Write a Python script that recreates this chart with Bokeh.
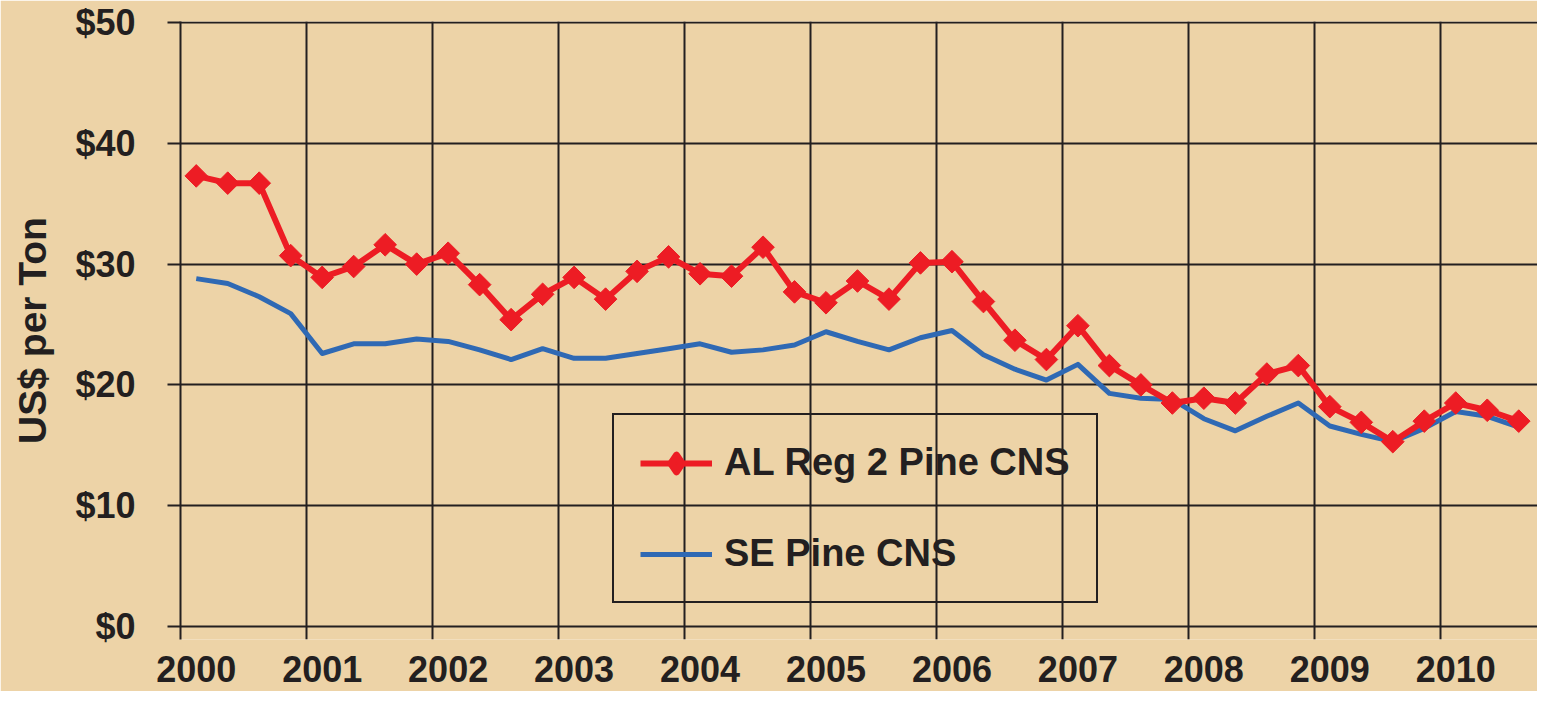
import math
from bokeh.plotting import figure
from bokeh.models import FixedTicker, Range1d, Legend, LegendItem, ColumnDataSource
from bokeh.embed import file_html
from bokeh.resources import INLINE

# ---------------- data ----------------
years = [2000, 2001, 2002, 2003, 2004, 2005, 2006, 2007, 2008, 2009, 2010]
year_labels = ["2000", "2001", "2002", "2003", "2004", "2005",
               "2006", "2007", "2008", "2009", "2010"]
quarters = [1, 2, 3, 4]
n_points = 43  # 2000 Q1 .. 2010 Q3

al_reg2_pine_cns = [37.3, 36.7, 36.7, 30.7, 28.9, 29.8, 31.6, 30.0, 30.9, 28.3,
                    25.4, 27.5, 28.9, 27.1, 29.4, 30.6, 29.2, 29.0, 31.4, 27.7,
                    26.8, 28.6, 27.1, 30.1, 30.2, 26.9, 23.7, 22.1, 24.9, 21.6,
                    20.0, 18.5, 18.9, 18.5, 20.9, 21.6, 18.2, 16.9, 15.3, 17.0,
                    18.5, 17.9, 17.0]
se_pine_cns = [28.8, 28.4, 27.3, 25.9, 22.6, 23.4, 23.4, 23.8, 23.6, 22.9,
               22.1, 23.0, 22.2, 22.2, 22.6, 23.0, 23.4, 22.7, 22.9, 23.3,
               24.4, 23.6, 22.9, 23.9, 24.5, 22.5, 21.3, 20.4, 21.7, 19.3,
               18.9, 18.8, 17.2, 16.2, 17.4, 18.5, 16.6, 15.9, 15.3, 16.4,
               17.8, 17.4, 16.5]
y_ticks = [0, 10, 20, 30, 40, 50]
y_tick_labels = ["$0", "$10", "$20", "$30", "$40", "$50"]
series_names = ["AL Reg 2 Pine CNS", "SE Pine CNS"]

# quarter mid-points on a continuous year axis
x_vals = [y + (q - 0.5) / 4 for y in years for q in quarters][:n_points]
label_pos = [y + 0.125 for y in years]

# ---------------- style ----------------
BG = "#EDD3A7"
INK = "#231F20"
RED = "#ED1C24"
BLUE = "#2F69B4"
FONT = "Liberation Sans"

src = ColumnDataSource(dict(x=x_vals, al=al_reg2_pine_cns, se=se_pine_cns))

p = figure(width=1537, height=691, output_backend="svg", toolbar_location=None,
           x_range=Range1d(2000, 2010.774), y_range=Range1d(-1.076, 50.083),
           min_border_left=180, min_border_right=0, min_border_top=21,
           min_border_bottom=52)
p.background_fill_color = BG
p.border_fill_color = BG
p.outline_line_color = None

# grids (vertical grid lines run 13px below $0, like the year tick marks)
p.xgrid.ticker = FixedTicker(ticks=years)
p.ygrid.ticker = FixedTicker(ticks=y_ticks)
for g in (p.xgrid, p.ygrid):
    g.grid_line_color = INK
    g.grid_line_width = 2
    g.grid_line_alpha = 1.0

# y axis
ya = p.yaxis[0]
ya.ticker = FixedTicker(ticks=y_ticks)
ya.major_label_overrides = {t: l for t, l in zip(y_ticks, y_tick_labels)}
ya.axis_line_color = INK
ya.axis_line_width = 2
ya.major_tick_line_color = INK
ya.major_tick_line_width = 2
ya.major_tick_out = 13
ya.major_tick_in = 0
ya.minor_tick_line_color = None
ya.major_label_standoff = 32
ya.major_label_text_font = FONT
ya.major_label_text_font_size = "36px"
ya.major_label_text_font_style = "bold"
ya.major_label_text_color = INK
ya.axis_label = "US$ per Ton"
ya.axis_label_text_font = FONT
ya.axis_label_text_font_size = "39px"
ya.axis_label_text_font_style = "bold"
ya.axis_label_text_color = INK
ya.axis_label_standoff = 18

# x axis (labels only; grid provides the year ticks)
xa = p.xaxis[0]
xa.ticker = FixedTicker(ticks=label_pos)
xa.major_label_overrides = {t: l for t, l in zip(label_pos, year_labels)}
xa.axis_line_color = None
xa.major_tick_line_color = None
xa.minor_tick_line_color = None
xa.major_tick_out = 0
xa.major_tick_in = 0
xa.major_label_standoff = 16
xa.major_label_text_font = FONT
xa.major_label_text_font_size = "36px"
xa.major_label_text_font_style = "bold"
xa.major_label_text_color = INK

# series
bl = p.line("x", "se", source=src, line_color=BLUE, line_width=5, line_join="round")
rl = p.line("x", "al", source=src, line_color=RED, line_width=6, line_join="round")
# diamond used for the legend swatch (hidden under the rotated squares in the plot)
legend_marker = p.scatter("x", "al", source=src, marker="diamond", size=8,
                          fill_color=RED, line_color=RED, line_width=7,
                          line_join="round")
rs = p.scatter("x", "al", source=src, marker="square", angle=math.pi / 4, size=16,
               fill_color=RED, line_color=RED, line_width=1)

legend = Legend(
    items=[LegendItem(label=series_names[0], renderers=[rl, legend_marker]),
           LegendItem(label=series_names[1], renderers=[bl])],
    location=(432, 36), orientation="vertical",
    glyph_width=72, glyph_height=42, label_height=42, label_width=346,
    label_standoff=12, spacing=48, padding=26, margin=0,
    border_line_color=INK, border_line_width=2, border_line_alpha=1.0,
    background_fill_alpha=0.0,
    label_text_font=FONT, label_text_font_size="38px",
    label_text_font_style="bold", label_text_color=INK)
p.add_layout(legend)

open("out.html", "w").write(file_html(p, INLINE))
